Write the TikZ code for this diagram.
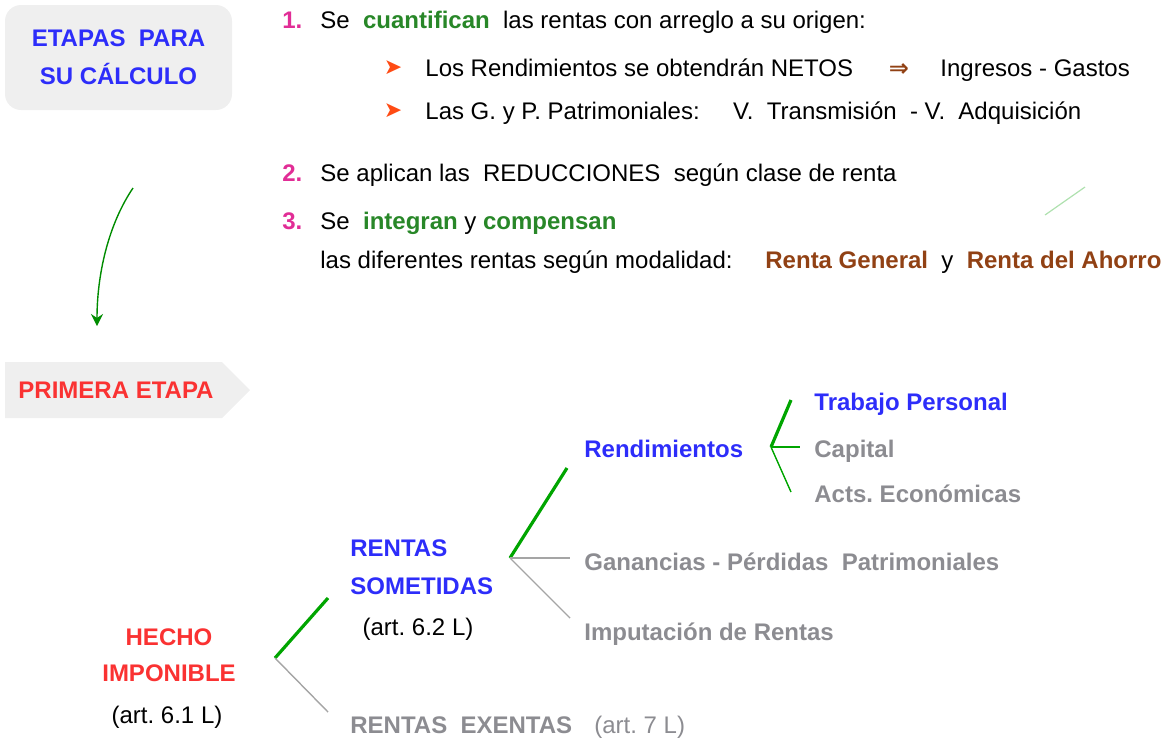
\documentclass[tikz,border=0pt]{standalone}
\usepackage{fontspec}
\setmainfont{Liberation Sans}
\newfontfamily\symfont{DejaVu Sans}
\usetikzlibrary{arrows.meta}
\frenchspacing

\definecolor{tblue}{RGB}{45,45,250}
\definecolor{tmagenta}{RGB}{225,45,150}
\definecolor{tgreen}{RGB}{40,135,40}
\definecolor{tbrown}{RGB}{145,65,20}
\definecolor{tred}{RGB}{250,50,50}
\definecolor{tgray}{RGB}{140,140,145}
\definecolor{torange}{RGB}{255,75,20}
\definecolor{boxgray}{RGB}{239,239,239}
\definecolor{lgreen}{RGB}{0,165,0}
\definecolor{lgray}{RGB}{165,165,165}
\definecolor{fgreen}{RGB}{175,225,175}

\begin{document}
\begin{tikzpicture}[x=0.5pt, y=-0.5pt,
		every node/.style={font=\fontsize{12}{14}\selectfont, inner sep=0pt},
		txt/.style={anchor=base west},
		num/.style={anchor=base west, text=tmagenta, font=\fontsize{12}{14}\selectfont\bfseries},
		bul/.style={anchor=base, text=torange, font=\fontsize{11}{12}\selectfont\symfont},
		blu/.style={text=tblue, font=\fontsize{12}{14}\selectfont\bfseries},
		gry/.style={text=tgray, font=\fontsize{12}{14}\selectfont\bfseries},
		rd/.style={text=tred, font=\fontsize{12}{14}\selectfont\bfseries},
		gthick/.style={lgreen, line width=1.6pt},
		gthin/.style={lgreen, line width=0.7pt},
		graythin/.style={lgray, line width=0.7pt}]
		\useasboundingbox (0,0) rectangle (1176,740);
		% etapas
		\node[blu, fill=boxgray, rounded corners=8pt, minimum width=113.5pt, minimum height=52.5pt,
			align=center, font=\fontsize{12}{19}\selectfont\bfseries] (etapas) at (118.5,57.5) {ETAPAS\ \ PARA\\SU CÁLCULO};
		\node[num] (n1) at (282,28) {1.};
		\node[txt] (p1) at (320,28) {Se\ \ \textcolor{tgreen}{\bfseries cuantifican}\ \ las rentas con arreglo a su origen:};
		\node[bul] (b1) at (393,74) {➤};
		\node[txt] (p1a) at (425,76) {Los Rendimientos se obtendrán NETOS};
		\node[anchor=base, text=tbrown, font=\fontsize{12}{14}\selectfont\symfont\bfseries] (imp) at (899,76) {⇒};
		\node[txt] (p1b) at (940,76) {Ingresos - Gastos};
		\node[bul] (b2) at (393,117) {➤};
		\node[txt] (p1c) at (425,119) {Las G. y P. Patrimoniales:\ \ \ \ \ V.\ \ Transmisión\ \ - V.\ \ Adquisición};
		\node[num] (n2) at (282,181) {2.};
		\node[txt] (p2) at (320,181) {Se aplican las\ \ REDUCCIONES\ \ según clase de renta};
		\node[num] (n3) at (282,229) {3.};
		\node[txt] (p3) at (320,229) {Se\ \ \textcolor{tgreen}{\bfseries integran} y \textcolor{tgreen}{\bfseries compensan}};
		\node[txt] (p3a) at (320,268) {las diferentes rentas según modalidad:};
		\node[txt] (p3b) at (765,268) {\textcolor{tbrown}{\bfseries Renta General}\ \ y\ \ \textcolor{tbrown}{\bfseries Renta del Ahorro}};
		\coordinate (m0) at (1045,215);
		\coordinate (m1) at (1085,187);
		\draw[fgreen, line width=0.6pt] (m0) -- (m1);
		% arrow down
		\coordinate (a0) at (133,188);
		\coordinate (a1) at (97,326);
		\draw[lgreen!85!black, line width=0.7pt, -{Stealth[length=6pt, width=6pt]}] (a0) .. controls (108,225) and (97,275) .. (a1);
		% primera etapa
		\fill[boxgray] (5,362) -- (222,362) -- (250,390) -- (222,418) -- (5,418) -- cycle;
		\node[rd, anchor=base] (primera) at (116,398.5) {PRIMERA ETAPA};
		% tree
		\node[rd, anchor=base] (hecho) at (169,645) {HECHO};
		\node[rd, anchor=base] (imponible) at (169,681) {IMPONIBLE};
		\node[anchor=base] (art61) at (167,723) {(art. 6.1 L)};
		\coordinate (f1) at (275,658);
		\coordinate (f1a) at (328,598);
		\coordinate (f1b) at (328,712);
		\draw[gthick] (f1) -- (f1a);
		\draw[graythin] (f1) -- (f1b);
		\node[blu, txt] (rentas) at (350,556) {RENTAS};
		\node[blu, txt] (sometidas) at (350,594) {SOMETIDAS};
		\node[anchor=base] (art62) at (418,635) {(art. 6.2 L)};
		\node[gry, txt] (exentas) at (350,733) {RENTAS\ \ EXENTAS};
		\node[txt, text=tgray] (art7) at (594,733) {(art. 7 L)};
		\coordinate (f2) at (510,558);
		\coordinate (f2a) at (567,468);
		\coordinate (f2b) at (570,558);
		\coordinate (f2c) at (570,618);
		\draw[gthick] (f2) -- (f2a);
		\draw[graythin] (f2) -- (f2b);
		\draw[graythin] (f2) -- (f2c);
		\node[blu, txt] (rend) at (584,457) {Rendimientos};
		\node[gry, txt] (ganan) at (584,570) {Ganancias - Pérdidas\ \ Patrimoniales};
		\node[gry, txt] (imput) at (584,640) {Imputación de Rentas};
		\coordinate (f3) at (771,447);
		\coordinate (f3a) at (791,400);
		\coordinate (f3b) at (800,447);
		\coordinate (f3c) at (791,492);
		\draw[gthick] (f3) -- (f3a);
		\draw[gthin] (f3) -- (f3b);
		\draw[gthin] (f3) -- (f3c);
		\node[blu, txt] (trabajo) at (814,410) {Trabajo Personal};
		\node[gry, txt] (capital) at (814,457) {Capital};
		\node[gry, txt] (acts) at (814,502) {Acts. Económicas};
	\end{tikzpicture}
\end{document}
